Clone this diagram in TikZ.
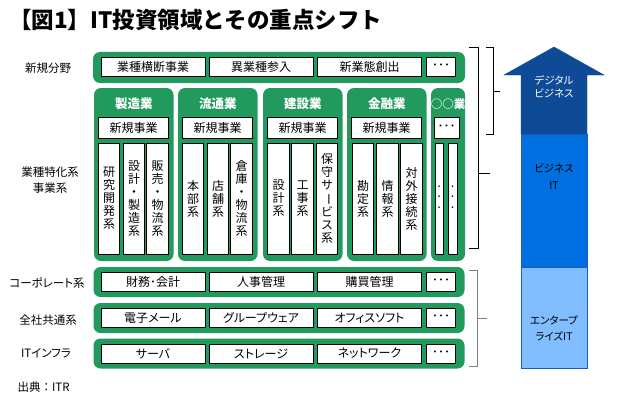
\documentclass[tikz,border=0pt]{standalone}
\usepackage{fontspec}
\setmainfont[RawFeature=+palt]{Noto Sans CJK JP}
\newfontfamily\titlefont{Noto Sans CJK JP}
\usetikzlibrary{positioning}
\definecolor{grn}{RGB}{34,154,94}
\definecolor{bluedeep}{RGB}{14,74,150}
\definecolor{bluemid}{RGB}{0,112,224}
\definecolor{bluelight}{RGB}{128,190,255}
\definecolor{blueline}{RGB}{30,90,190}
\newcommand{\tatebar}{\rotatebox[origin=c]{-90}{ー}}

\tikzset{
  band/.style={fill=grn, rounded corners=7pt, inner sep=0pt},
  cell/.style={draw=black, fill=white, line width=0.8pt, inner sep=0pt,
    font=\fontsize{12}{13}\selectfont},
  vcell/.style={cell, minimum width=21.5pt, minimum height=111pt, align=center},
  rowlabel/.style={font=\fontsize{11.5}{16}\selectfont, align=center},
  head/.style={text=white, font=\bfseries\fontsize{12.5}{14}\selectfont},
  brace/.style={line width=0.9pt},
  arrowtext/.style={font=\fontsize{10.5}{14}\selectfont, align=center},
}

\begin{document}
\begin{tikzpicture}[x=1pt,y=-1pt]
  \useasboundingbox (0,0) rectangle (620,404);

  \node[anchor=west, inner sep=0pt, font=\titlefont\bfseries\fontsize{22.5}{25}\selectfont] (title) at (9,20)
    {【図1】IT投資領域とその重点シフト};

  % row labels
  \node[rowlabel] (lab-new) at (48,68) {新規分野};
  \node[rowlabel] (lab-ind) at (50,180) {業種特化系\\事業系};
  \node[rowlabel] (lab-corp) at (47,283) {コーポレート系};
  \node[rowlabel] (lab-common) at (48,320) {全社共通系};
  \node[rowlabel] (lab-infra) at (46,353) {ITインフラ};
  \node[rowlabel, anchor=west, font=\titlefont\fontsize{11.5}{16}\selectfont] (source) at (14,387) {出典：ITR};

  % new business row
  \node[band, minimum width=372pt, minimum height=31pt] (new) at (279,67.5) {};
  \node[cell, minimum width=104pt, minimum height=19pt] (new-a) at (153,66.5) {業種横断事業};
  \node[cell, minimum width=104pt, minimum height=19pt] (new-b) at (261,66.5) {異業種参入};
  \node[cell, minimum width=104pt, minimum height=19pt] (new-c) at (369.5,66.5) {新業態創出};
  \node[cell, minimum width=29pt, minimum height=19pt] (new-d) at (441,66.5) {･･･};

  % industry columns
  \foreach \nm/\lx/\hd in {seizo/94/製造業,ryutsu/178/流通業,kensetsu/263/建設業,kinyu/347/金融業}{
    \node[band, minimum width=79.5pt, minimum height=173pt] (\nm) at (\lx+39.75,174.5) {};
    \node[head] (\nm-head) at (\lx+39.75,104) {\hd};
    \node[cell, minimum width=70pt, minimum height=21pt] (\nm-new) at (\lx+39.5,127.5) {新規事業};
  }
  \foreach \nm/\cx/\txt in {
      seizo-a/109/{研\\究\\開\\発\\系},
      seizo-b/134/{設\\計\\・\\製\\造\\系},
      seizo-c/157.5/{販\\売\\・\\物\\流\\系},
      ryutsu-a/193/{本\\部\\系},
      ryutsu-b/218/{店\\舗\\系},
      ryutsu-c/241.5/{倉\\庫\\・\\物\\流\\系},
      kensetsu-a/278.5/{設\\計\\系},
      kensetsu-b/302.5/{工\\事\\系},
      kensetsu-c/327/{保\\守\\サ\\\tatebar\\ビ\\ス\\系},
      kinyu-a/363/{勘\\定\\系},
      kinyu-b/387.5/{情\\報\\系},
      kinyu-c/411.5/{対\\外\\接\\続\\系}}
    \node[vcell] (\nm) at (\cx,198.5) {\txt};

  % other industry
  \node[band, minimum width=34pt, minimum height=173pt] (other) at (448,174.5) {};
  \node[head, font=\bfseries\fontsize{11.5}{13}\selectfont] (other-head) at (448,104) {○○業};
  \node[cell, minimum width=25pt, minimum height=21pt] (other-new) at (446.5,127.5) {･･･};
  \node[vcell, minimum width=8pt, font=\fontsize{10}{10.5}\selectfont] (other-a) at (439,198.5) {･\\･\\･};
  \node[vcell, minimum width=9pt, font=\fontsize{10}{10.5}\selectfont] (other-b) at (452.5,198.5) {･\\･\\･};

  % common rows
  \foreach \nm/\cy/\ta/\tb/\tc in {corp/282/財務･会計/人事管理/購買管理,
      common/318/電子メール/グループウェア/オフィスソフト,
      infra/353.5/サーバ/ストレージ/ネットワーク}{
    \node[band, minimum width=371pt, minimum height=30pt] (\nm) at (279,\cy) {};
    \node[cell, minimum width=104pt, minimum height=19pt] (\nm-a) at (153,\cy) {\ta};
    \node[cell, minimum width=104pt, minimum height=19pt] (\nm-b) at (261,\cy) {\tb};
    \node[cell, minimum width=104pt, minimum height=19pt] (\nm-c) at (369.5,\cy) {\tc};
    \node[cell, minimum width=29pt, minimum height=19pt] (\nm-d) at (441,\cy) {･･･};
  }

  % brackets
  \draw[brace] (469,47) -- (478,47) -- (478,248) -- (469,248) (478,173) -- (490,173);
  \draw[brace] (486,47) -- (493,47) -- (493,134) -- (486,134) (493,91) -- (500,91);
  \draw[brace, gray] (469,270) -- (477,270) -- (477,366) -- (469,366) (477,318) -- (487,318);

  % shift arrow
  \node[draw=blueline, fill=bluelight, minimum width=66pt, minimum height=101pt, inner sep=0pt] (ent) at (554,317.5) {};
  \node[draw=blueline, fill=bluemid, minimum width=66pt, minimum height=133pt, inner sep=0pt] (bizit) at (554,200.5) {};
  \filldraw[fill=bluedeep, draw=bluedeep] (521,134) -- (521,75) -- (504,75) -- (554,47)
    -- (604,75) -- (587,75) -- (587,134) -- cycle;
  \node[arrowtext, text=white, font=\fontsize{10.5}{13}\selectfont] (dig-text) at (554,87) {デジタル\\ビジネス};
  \node[arrowtext, font=\fontsize{10.5}{17}\selectfont] (bizit-text) at (554,177) {ビジネス\\IT};
  \node[arrowtext, font=\fontsize{10.5}{16}\selectfont] (ent-text) at (554,328) {エンタープ\\ライズIT};
\end{tikzpicture}
\end{document}
